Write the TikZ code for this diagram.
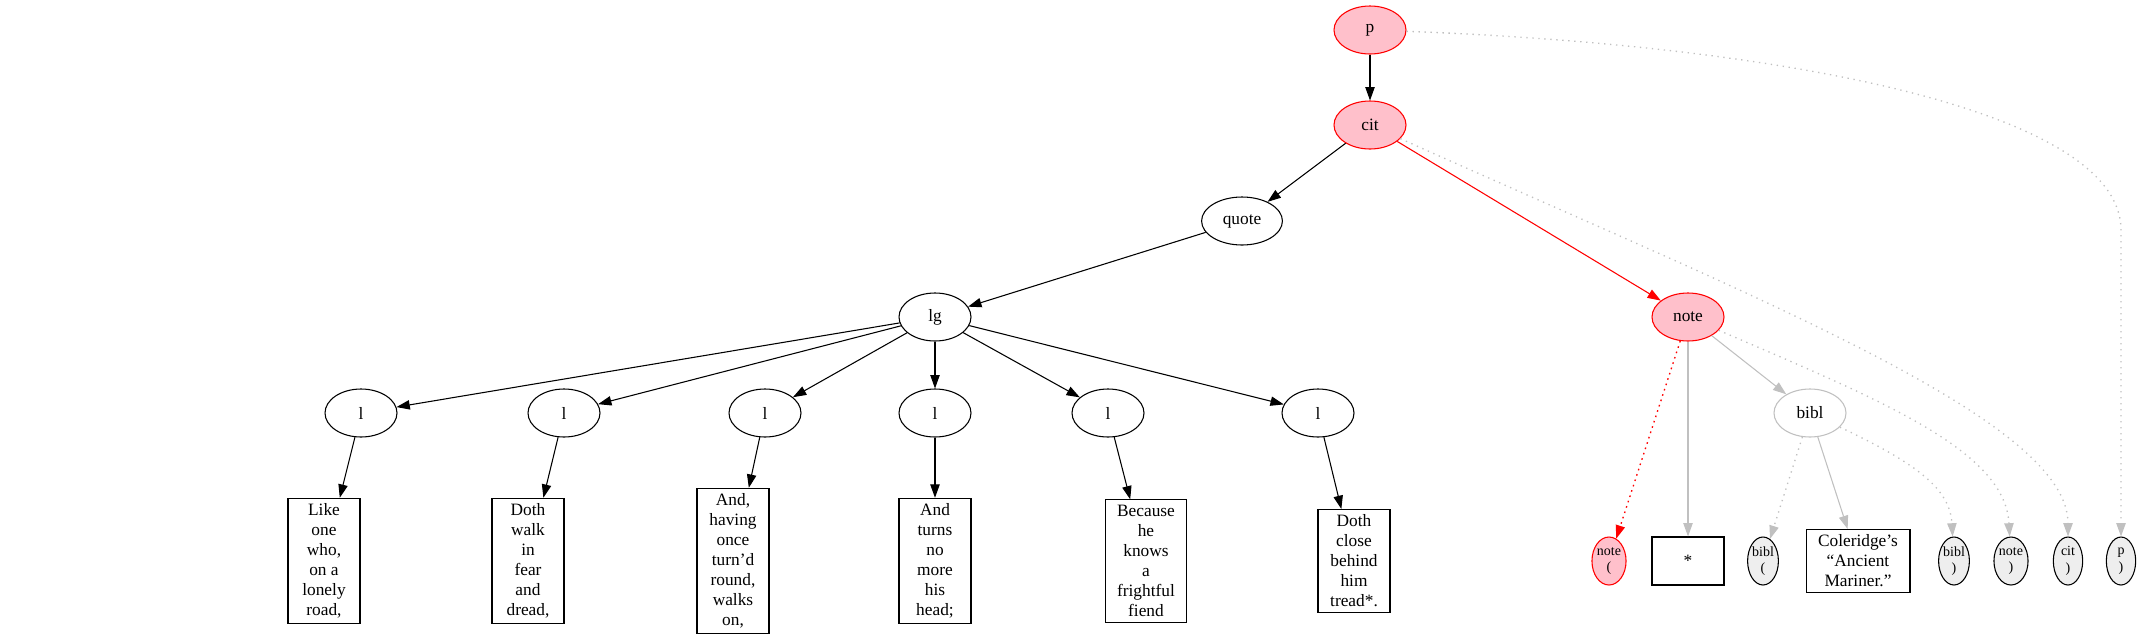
\documentclass[tikz,border=0pt]{standalone}
\usepackage{fontspec}
\setmainfont{Liberation Serif}
\usepackage{tikz}
\usetikzlibrary{arrows.meta,shapes.geometric}
\definecolor{nodepink}{HTML}{FFC0CB}
\definecolor{edgegray}{HTML}{C0C0C0}
\definecolor{leafgray}{HTML}{EEEEEE}

\begin{document}
\begin{tikzpicture}[x=0.75pt,y=-0.75pt,line width=0.8pt,
  elem/.style={ellipse,draw,minimum width=54pt,minimum height=36pt,
    inner xsep=7pt,inner ysep=2pt,font=\fontsize{13}{15}\selectfont},
  hit/.style={elem,draw=red,fill=nodepink},
  faded/.style={elem,draw=edgegray},
  txt/.style={rectangle,draw,align=center,minimum width=54pt,minimum height=36pt,
    inner xsep=9pt,inner ysep=4pt,font=\fontsize{13}{15}\selectfont},
  marker/.style={ellipse,draw,fill=leafgray,align=center,minimum width=22pt,
    minimum height=36pt,inner sep=0pt,font=\fontsize{10.5}{12.5}\selectfont},
  tip/.style={-{Triangle[length=10pt,width=7pt]}},
  redge/.style={tip,red},
  gedge/.style={tip,edgegray},
  gdot/.style={tip,edgegray,line width=1pt,dash pattern=on 1pt off 3.5pt},
  rdot/.style={tip,red,line width=1pt,dash pattern=on 1.2pt off 3pt}]
\useasboundingbox (0,0) rectangle (2139,643);

\node[hit] (p) at (1370,30) {p};
\node[hit] (cit) at (1370,125) {cit};
\node[elem] (quote) at (1242,221) {quote};
\node[elem] (lg) at (935,317) {lg};
\node[hit] (note) at (1688,317) {note};
\node[faded] (bibl) at (1810,413) {bibl};

\node[elem] (l1) at (361,413) {l};
\node[elem] (l2) at (564,413) {l};
\node[elem] (l3) at (765,413) {l};
\node[elem] (l4) at (935,413) {l};
\node[elem] (l5) at (1108,413) {l};
\node[elem] (l6) at (1318,413) {l};

\node[txt] (t1) at (324,561) {Like\\one\\who,\\on a\\lonely\\road,};
\node[txt] (t2) at (528,561) {Doth\\walk\\in\\fear\\and\\dread,};
\node[txt] (t3) at (733,561) {And,\\having\\once\\turn’d\\round,\\walks\\on,};
\node[txt] (t4) at (935,561) {And\\turns\\no\\more\\his\\head;};
\node[txt] (t5) at (1146,561) {Because\\he\\knows\\a\\frightful\\fiend};
\node[txt] (t6) at (1354,561) {Doth\\close\\behind\\him\\tread*.};

\node[marker,draw=red,fill=nodepink] (noteopen) at (1609,561) {note\\(};
\node[txt] (star) at (1688,561) {*};
\node[marker] (biblopen) at (1763,561) {bibl\\(};
\node[txt] (coleridge) at (1858,561) {Coleridge’s\\“Ancient\\Mariner.”};
\node[marker] (biblclose) at (1954,561) {bibl\\)};
\node[marker] (noteclose) at (2011,561) {note\\)};
\node[marker] (citclose) at (2068,561) {cit\\)};
\node[marker] (pclose) at (2121,561) {p\\)};

\draw[tip] (p) -- (cit);
\draw[tip] (cit) -- (quote);
\draw[tip] (quote) -- (lg);
\foreach \i in {1,...,6}{
  \draw[tip] (lg) -- (l\i);
  \draw[tip] (l\i) -- (t\i);
}
\draw[redge] (cit) -- (note);
\draw[gedge] (note) -- (bibl);
\draw[gedge] (note) -- (star);
\draw[gedge] (bibl) -- (coleridge);
\draw[rdot] (note) -- (noteopen);
\draw[gdot] (bibl) -- (biblopen);
\draw[gdot] (bibl) .. controls (1920,465) and (1950,490) .. (biblclose);
\draw[gdot] (note) .. controls (1880,400) and (2005,450) .. (noteclose);
\draw[gdot] (cit) .. controls (1760,300) and (2068,420) .. (citclose);
\draw[gdot] (p) .. controls (1780,45) and (2121,110) .. (2121,230) -- (pclose);
\end{tikzpicture}
\end{document}
